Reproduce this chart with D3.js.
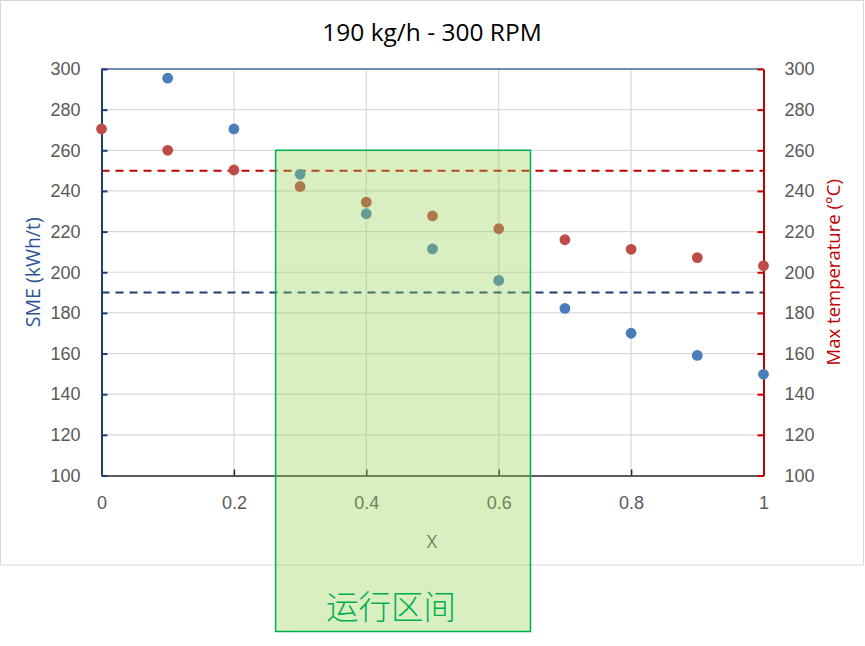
<!DOCTYPE html>
<html>
<head>
<meta charset="utf-8">
<script src="https://cdn.jsdelivr.net/npm/d3@7"></script>
<style>
  body { margin: 0; background: #fff; }
  svg { display: block; font-family: "Open Sans", "Noto Sans", sans-serif; }
</style>
</head>
<body>
<div id="chart"></div>
<script>
// data
const xSME = [0.1, 0.2, 0.3, 0.4, 0.5, 0.6, 0.7, 0.8, 0.9, 1.0];
const sme = [295.5, 270.5, 248.2, 228.8, 211.5, 196, 182.2, 170, 159.1, 149.8];
const xTemp = [0, 0.1, 0.2, 0.3, 0.4, 0.5, 0.6, 0.7, 0.8, 0.9, 1.0];
const temp = [270.5, 260, 250.3, 242.2, 234.5, 227.7, 221.4, 216, 211.3, 207.2, 203.2];
const smeLimit = 190;
const tempLimit = 250;
const xTicks = [0, 0.2, 0.4, 0.6, 0.8, 1];
const yTicks = [100, 120, 140, 160, 180, 200, 220, 240, 260, 280, 300];
const zone = [0.263, 0.648];   // operating window on X
const zoneTop = 260;

const W = 865, H = 646;
const margin = {top: 69, right: 101.5, bottom: 170.5, left: 101.5};

const svg = d3.select('#chart').append('svg')
  .attr('width', W)
  .attr('height', H);

// chart frame
svg.append('rect')
  .attr('x', 0.5).attr('y', 0.5)
  .attr('width', 863).attr('height', 564.5)
  .attr('fill', '#fff')
  .attr('stroke', '#d9d9d9');

const x = d3.scaleLinear().domain([0, 1]).range([margin.left, W - margin.right]);
const yL = d3.scaleLinear().domain([100, 300]).range([H - margin.bottom, margin.top]);
const yR = d3.scaleLinear().domain([100, 300]).range([H - margin.bottom, margin.top]);

// gridlines
svg.append('g').selectAll('line.h')
  .data(yTicks.slice(1))
  .enter().append('line')
  .attr('x1', x(0)).attr('x2', x(1))
  .attr('y1', d => yL(d)).attr('y2', d => yL(d))
  .attr('stroke', '#d9d9d9').attr('stroke-width', 1.2);
svg.append('g').selectAll('line.v')
  .data(xTicks.slice(1, -1))
  .enter().append('line')
  .attr('x1', d => x(d)).attr('x2', d => x(d))
  .attr('y1', yL(100)).attr('y2', yL(300))
  .attr('stroke', '#d9d9d9').attr('stroke-width', 1.2);

// top border of plot
svg.append('line')
  .attr('x1', x(0)).attr('x2', x(1))
  .attr('y1', yL(300)).attr('y2', yL(300))
  .attr('stroke', '#4a6b9d').attr('stroke-width', 1.5);

// limit lines
svg.append('line')
  .attr('x1', x(0)).attr('x2', x(1))
  .attr('y1', yR(tempLimit)).attr('y2', yR(tempLimit))
  .attr('stroke', '#c00000').attr('stroke-width', 2)
  .attr('stroke-dasharray', '8,6');
svg.append('line')
  .attr('x1', x(0)).attr('x2', x(1))
  .attr('y1', yL(smeLimit)).attr('y2', yL(smeLimit))
  .attr('stroke', '#1f3f73').attr('stroke-width', 2)
  .attr('stroke-dasharray', '8,6');

// axes
const axisB = svg.append('g')
  .attr('transform', `translate(0,${yL(100)})`)
  .call(d3.axisBottom(x).tickValues(xTicks).tickSizeInner(-6).tickSizeOuter(0)
    .tickPadding(21).tickFormat(d => d3.format('~g')(d)));
axisB.select('.domain').attr('stroke', '#262626').attr('stroke-width', 1.5);
axisB.selectAll('.tick line').attr('stroke', '#262626').attr('stroke-width', 1.5);
axisB.selectAll('text').attr('fill', '#595959').style('font-size', '18px');

const axisL = svg.append('g')
  .attr('transform', `translate(${x(0)},0)`)
  .call(d3.axisLeft(yL).tickValues(yTicks).tickSizeInner(-6).tickSizeOuter(0).tickPadding(21));
axisL.select('.domain').attr('stroke', '#1f3f73').attr('stroke-width', 2);
axisL.selectAll('.tick line').attr('stroke', '#1f3f73').attr('stroke-width', 2);
axisL.selectAll('text').attr('fill', '#595959').style('font-size', '18px');

const axisR = svg.append('g')
  .attr('transform', `translate(${x(1)},0)`)
  .call(d3.axisRight(yR).tickValues(yTicks).tickSizeInner(-6).tickSizeOuter(0).tickPadding(21));
axisR.select('.domain').attr('stroke', '#c00000').attr('stroke-width', 2);
axisR.selectAll('.tick line').attr('stroke', '#c00000').attr('stroke-width', 2);
axisR.selectAll('text').attr('fill', '#595959').style('font-size', '18px');

// points
svg.append('g').selectAll('circle')
  .data(xSME.map((d, i) => [d, sme[i]]))
  .enter().append('circle')
  .attr('cx', d => x(d[0])).attr('cy', d => yL(d[1]))
  .attr('r', 5.4).attr('fill', '#4a7ebb');
svg.append('g').selectAll('circle')
  .data(xTemp.map((d, i) => [d, temp[i]]))
  .enter().append('circle')
  .attr('cx', d => x(d[0])).attr('cy', d => yR(d[1]))
  .attr('r', 5.4).attr('fill', '#be4b48');

// titles
svg.append('text')
  .attr('x', 432).attr('y', 41)
  .attr('text-anchor', 'middle')
  .style('font-size', '24.5px').attr('fill', '#000')
  .text('190 kg/h - 300 RPM');
svg.append('text')
  .attr('x', 432).attr('y', 548)
  .attr('text-anchor', 'middle')
  .style('font-size', '18px').attr('fill', '#595959')
  .text('X');
svg.append('text')
  .attr('transform', `translate(40,${yL(200)}) rotate(-90)`)
  .attr('text-anchor', 'middle')
  .style('font-size', '19.5px').attr('fill', '#2f5597')
  .text('SME (kWh/t)');
svg.append('text')
  .attr('transform', `translate(840,${yR(200)}) rotate(-90)`)
  .attr('text-anchor', 'middle')
  .style('font-size', '18.5px').attr('fill', '#c00000')
  .text('Max temperature (°C)');

// operating window overlay
svg.append('rect')
  .attr('x', x(zone[0])).attr('y', yL(zoneTop))
  .attr('width', x(zone[1]) - x(zone[0]))
  .attr('height', 631.5 - yL(zoneTop))
  .attr('fill', 'rgb(146,208,80)').attr('fill-opacity', 0.35)
  .attr('stroke', '#00b050').attr('stroke-width', 1.5);
svg.append('text')
  .attr('x', 326).attr('y', 619)
  .style('font-family', '"Noto Sans CJK SC", sans-serif')
  .style('font-size', '32.5px').style('font-weight', 300)
  .attr('fill', '#00b050')
  .text('运行区间');
</script>
</body>
</html>
